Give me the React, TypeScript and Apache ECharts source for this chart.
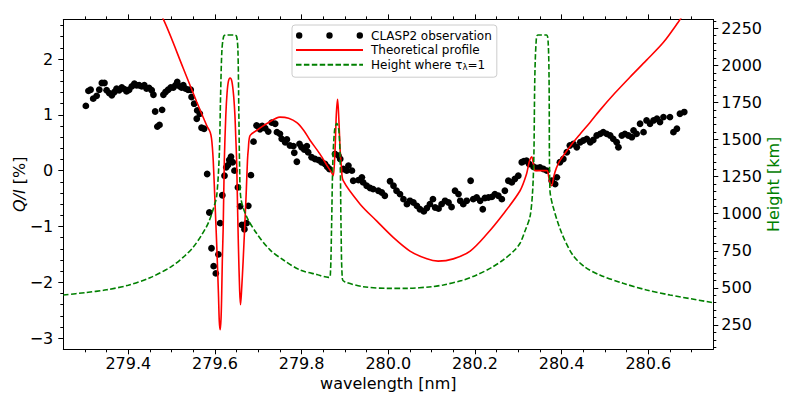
import React, { useEffect, useRef } from "react";
import * as echarts from "echarts";

// CLASP2 observation (wavelength [nm], Q/I [%])
const obsWavelength = [
  279.302, 279.308, 279.313, 279.319, 279.327, 279.333, 279.339, 279.345, 279.35, 279.356,
  279.362, 279.368, 279.373, 279.379, 279.385, 279.391, 279.396, 279.402, 279.408, 279.414,
  279.419, 279.425, 279.431, 279.437, 279.442, 279.448, 279.454, 279.458, 279.462, 279.467,
  279.472, 279.478, 279.481, 279.486, 279.492, 279.498, 279.504, 279.509, 279.513, 279.519,
  279.523, 279.527, 279.532, 279.538, 279.544, 279.546, 279.552, 279.558, 279.559, 279.565,
  279.569, 279.575, 279.582, 279.587, 279.592, 279.597, 279.602, 279.608, 279.612, 279.617,
  279.622, 279.626, 279.63, 279.633, 279.637, 279.641, 279.645, 279.653, 279.658, 279.662,
  279.668, 279.673, 279.677, 279.683, 279.689, 279.696, 279.7, 279.704, 279.709, 279.716,
  279.723, 279.731, 279.739, 279.743, 279.75, 279.754, 279.762, 279.766, 279.773, 279.781,
  279.783, 279.789, 279.795, 279.8, 279.806, 279.812, 279.815, 279.823, 279.831, 279.839,
  279.846, 279.854, 279.859, 279.864, 279.877, 279.885, 279.889, 279.896, 279.904, 279.908,
  279.916, 279.919, 279.931, 279.939, 279.942, 279.95, 279.958, 279.965, 279.977, 279.985,
  279.992, 280.004, 280.012, 280.019, 280.027, 280.035, 280.043, 280.05, 280.058, 280.066,
  280.073, 280.082, 280.089, 280.096, 280.103, 280.108, 280.116, 280.123, 280.131, 280.139,
  280.146, 280.154, 280.162, 280.166, 280.173, 280.181, 280.19, 280.196, 280.204, 280.212,
  280.218, 280.223, 280.231, 280.239, 280.246, 280.254, 280.262, 280.269, 280.277, 280.285,
  280.292, 280.3, 280.308, 280.313, 280.319, 280.325, 280.335, 280.343, 280.35, 280.358,
  280.366, 280.377, 280.385, 280.389, 280.396, 280.404, 280.412, 280.419, 280.427, 280.435,
  280.443, 280.45, 280.458, 280.466, 280.473, 280.481, 280.489, 280.496, 280.504, 280.512,
  280.519, 280.527, 280.531, 280.539, 280.546, 280.554, 280.562, 280.566, 280.573, 280.581,
  280.589, 280.596, 280.604, 280.612, 280.62, 280.627, 280.635, 280.65, 280.658, 280.666,
  280.673, 280.683,
];
const obsQI = [
  1.16, 1.43, 1.45, 1.29, 1.34, 1.45, 1.57, 1.57, 1.44, 1.39,
  1.35, 1.41, 1.47, 1.44, 1.49, 1.46, 1.42, 1.45, 1.51, 1.56,
  1.53, 1.53, 1.51, 1.53, 1.47, 1.48, 1.44, 1.36, 1.06, 0.79,
  0.82, 1.09, 1.36, 1.41, 1.45, 1.49, 1.49, 1.53, 1.59, 1.51,
  1.49, 1.53, 1.47, 1.45, 1.45, 1.32, 1.2, 0.93, 1.08, 1.02,
  0.77, 0.75, -0.06, -0.75, -1.39, -1.71, -1.84, -1.5, -0.94, -0.44,
  -0.09, 0.06, 0.1, 0.19, 0.25, 0.15, 0.0, -0.3, -0.64, -0.97,
  -1.05, -0.94, -0.63, -0.08, 0.52, 0.81, 0.79, 0.74, 0.8, 0.76,
  0.7, 0.86, 0.84, 0.69, 0.66, 0.57, 0.51, 0.56, 0.45, 0.44,
  0.32, 0.16, 0.48, 0.42, 0.38, 0.44, 0.33, 0.24, 0.21, 0.19,
  0.15, 0.12, 0.07, 0.03, 0.3, 0.27, 0.21, 0.03, 0.0, 0.09,
  0.0, -0.18, -0.17, -0.12, -0.21, -0.27, -0.31, -0.33, -0.36, -0.39,
  -0.45, -0.19, -0.27, -0.36, -0.42, -0.51, -0.6, -0.54, -0.57, -0.63,
  -0.69, -0.73, -0.67, -0.6, -0.51, -0.66, -0.68, -0.6, -0.54, -0.57,
  -0.65, -0.36, -0.42, -0.54, -0.6, -0.54, -0.18, -0.51, -0.48, -0.54,
  -0.69, -0.49, -0.48, -0.47, -0.42, -0.45, -0.51, -0.36, -0.18, -0.21,
  -0.15, -0.09, 0.15, 0.17, 0.18, 0.12, 0.07, 0.05, 0.06, 0.03,
  0.0, -0.18, -0.24, -0.12, 0.15, 0.21, 0.33, 0.45, 0.48, 0.42,
  0.51, 0.54, 0.57, 0.51, 0.55, 0.63, 0.66, 0.69, 0.66, 0.63,
  0.57, 0.51, 0.42, 0.63, 0.66, 0.63, 0.6, 0.72, 0.66, 0.84,
  0.69, 0.9, 0.84, 0.9, 0.93, 0.87, 0.96, 0.96, 0.69, 0.75,
  1.02, 1.05,
];

// Theoretical profile (wavelength [nm], Q/I [%])
const theoryWavelength = [
  279.25, 279.35, 279.42, 279.481, 279.527, 279.558, 279.581, 279.589, 279.592, 279.594,
  279.596, 279.6, 279.604, 279.608, 279.61, 279.612, 279.614, 279.6155, 279.617, 279.619,
  279.6216, 279.625, 279.628, 279.631, 279.635, 279.639, 279.643, 279.646, 279.648, 279.65,
  279.652, 279.654, 279.657, 279.659, 279.661, 279.665, 279.672, 279.675, 279.677, 279.681,
  279.696, 279.719, 279.75, 279.77, 279.789, 279.805, 279.819, 279.842, 279.862, 279.869,
  279.873, 279.877, 279.88, 279.883, 279.886, 279.889, 279.892, 279.896, 279.935, 279.973,
  280.012, 280.05, 280.089, 280.115, 280.15, 280.189, 280.227, 280.265, 280.304, 280.319,
  280.325, 280.331, 280.335, 280.339, 280.366, 280.37, 280.374, 280.377, 280.382, 280.388,
  280.396, 280.419, 280.442, 280.465, 280.488, 280.523, 280.557, 280.596, 280.634, 280.669,
  280.696, 280.75,
];
const theoryQI = [
  6.0, 4.6, 3.6, 2.71, 1.83, 1.23, 0.81, 0.69, 0.58, 0.42,
  0.18, -0.55, -1.32, -2.2, -2.7, -2.85, -2.65, -2.22, -1.6, -1.02,
  0.18, 0.99, 1.4, 1.6, 1.66, 1.6, 1.35, 1.0, 0.6, 0.18,
  -0.6, -1.32, -2.15, -2.4, -2.2, -1.62, -0.42, 0.18, 0.39, 0.63,
  0.72, 0.84, 0.96, 0.94, 0.86, 0.72, 0.55, 0.3, 0.05, -0.03,
  -0.09, 0.35, 1.0, 1.28, 0.9, 0.35, 0.05, -0.18, -0.6, -0.9,
  -1.2, -1.44, -1.58, -1.62, -1.58, -1.44, -1.14, -0.78, -0.36, -0.06,
  0.15, 0.25, 0.12, 0.0, 0.0, -0.1, -0.25, -0.27, -0.1, 0.05,
  0.18, 0.43, 0.65, 0.86, 1.08, 1.39, 1.67, 1.98, 2.29, 2.66,
  2.97, 3.6,
];

// Height where tau=1 (wavelength [nm], height [km])
const heightWavelength = [
  279.25, 279.3, 279.35, 279.4, 279.45, 279.5, 279.53, 279.55, 279.57, 279.585,
  279.597, 279.604, 279.61, 279.613, 279.616, 279.62, 279.625, 279.645, 279.65, 279.653,
  279.655, 279.657, 279.66, 279.673, 279.696, 279.727, 279.758, 279.796, 279.835, 279.862,
  279.866, 279.869, 279.872, 279.876, 279.881, 279.886, 279.889, 279.891, 279.894, 279.9,
  279.942, 280.0, 280.043, 280.1, 280.127, 280.17, 280.204, 280.24, 280.265, 280.29,
  280.304, 280.315, 280.327, 280.333, 280.336, 280.338, 280.341, 280.345, 280.365, 280.369,
  280.371, 280.373, 280.38, 280.4, 280.426, 280.454, 280.488, 280.542, 280.596, 280.65,
  280.75,
];
const heightKm = [
  452, 468, 487, 518, 568, 645, 715, 775, 860, 940,
  1040, 1120, 1400, 1800, 2100, 2195, 2205, 2205, 2195, 2100,
  1700, 1300, 1100, 980, 868, 756, 688, 621, 590, 571,
  575, 900, 1350, 1560, 1610, 1560, 1350, 900, 560, 540,
  508, 497, 497, 508, 520, 550, 587, 640, 688, 750,
  801, 880, 980, 1150, 1400, 1900, 2150, 2205, 2205, 2150,
  1900, 1160, 1050, 870, 720, 640, 587, 531, 486, 452,
  400,
];

// Tick values
const xTicks = [279.4, 279.6, 279.8, 280.0, 280.2, 280.4, 280.6];
const qiTicks = [-3, -2, -1, 0, 1, 2];
const heightTicks = [250, 500, 750, 1000, 1250, 1500, 1750, 2000, 2250];

const FONT = "DejaVu Sans";
const minus = (s: string) => s.replace("-", "\u2212");
const dotIcon =
  "path://M0,3.2a3.2,3.2 0 1,0 6.4,0a3.2,3.2 0 1,0 -6.4,0" +
  "M30.3,3.2a3.2,3.2 0 1,0 6.4,0a3.2,3.2 0 1,0 -6.4,0" +
  "M60.6,3.2a3.2,3.2 0 1,0 6.4,0a3.2,3.2 0 1,0 -6.4,0";

export default function App() {
  const ref = useRef<HTMLDivElement>(null);
  useEffect(() => {
    if (!ref.current) return;
    const chart = echarts.init(ref.current, null, { renderer: "svg" });
    const axisCommon = {
      axisLine: { show: true, onZero: false, lineStyle: { color: "#000", width: 1 } },
      splitLine: { show: false },
    };
    const xBase = {
      type: "value",
      min: 279.25,
      max: 280.75,
      minInterval: 0.2,
      maxInterval: 0.2,
      ...axisCommon,
      axisTick: { show: true, inside: false, length: 5, customValues: xTicks, lineStyle: { color: "#000" } },
      minorTick: { show: true, splitNumber: 4, length: 3, lineStyle: { color: "#000" } },
    };
    const option: any = {
      animation: false,
      textStyle: { fontFamily: FONT },
      grid: { left: 63.3, right: 79.7, top: 19.4, bottom: 47.7, containLabel: false, outerBoundsMode: "none" },
      legend: {
        orient: "vertical",
        left: 292,
        top: 25,
        padding: [4, 5, 6, 3],
        itemWidth: 67,
        itemHeight: 6.4,
        itemGap: 1.6,
        backgroundColor: "rgba(255,255,255,0.8)",
        borderColor: "#cccccc",
        borderWidth: 1,
        borderRadius: 3,
        textStyle: {
          fontFamily: FONT,
          fontSize: 12,
          color: "#000",
          lineHeight: 13,
          padding: [0, 0, 0, 3],
          rich: { sub: { fontFamily: FONT, fontSize: 8.5, verticalAlign: "bottom", color: "#000" } },
        },
        formatter: (name: string) => (name === "Height where τλ=1" ? "Height where τ{sub|λ}=1" : name),
        data: [
          { name: "CLASP2 observation", icon: dotIcon, itemStyle: { opacity: 1 } },
          { name: "Theoretical profile", itemStyle: { opacity: 0 } },
          { name: "Height where τλ=1", itemStyle: { opacity: 0 } },
        ],
      },
      xAxis: [
        {
          ...xBase,
          position: "bottom",
          axisLabel: {
            customValues: xTicks,
            formatter: (v: number) => v.toFixed(1),
            fontFamily: FONT,
            fontSize: 16,
            color: "#000",
            margin: 6,
          },
          name: "wavelength [nm]",
          nameLocation: "middle",
          nameGap: 26,
          nameMoveOverlap: false,
          nameTextStyle: { fontFamily: FONT, fontSize: 16, color: "#000" },
        },
        {
          ...xBase,
          position: "top",
          axisLabel: { show: false },
        },
      ],
      yAxis: [
        {
          type: "value",
          position: "left",
          min: -3.2,
          max: 2.71,
          minInterval: 1,
          maxInterval: 1,
          ...axisCommon,
          axisTick: { show: true, inside: false, length: 5, customValues: qiTicks, lineStyle: { color: "#000" } },
          minorTick: { show: true, splitNumber: 5, length: 3, lineStyle: { color: "#000" } },
          axisLabel: {
            customValues: qiTicks,
            formatter: (v: number) => minus(String(v)),
            fontFamily: FONT,
            fontSize: 16,
            color: "#000",
            margin: 10,
          },
          name: "{i|Q/I} [%]",
          nameLocation: "middle",
          nameRotate: 90,
          nameGap: 36,
          nameMoveOverlap: false,
          nameTextStyle: {
            fontFamily: FONT,
            fontSize: 16,
            color: "#000",
            rich: { i: { fontFamily: FONT, fontSize: 16, fontStyle: "italic", color: "#000" } },
          },
        },
        {
          type: "value",
          position: "right",
          min: 86,
          max: 2310,
          minInterval: 250,
          maxInterval: 250,
          ...axisCommon,
          axisTick: { show: true, inside: false, length: 5, customValues: heightTicks, lineStyle: { color: "#000" } },
          minorTick: { show: true, splitNumber: 5, length: 3, lineStyle: { color: "#000" } },
          axisLabel: {
            customValues: heightTicks,
            formatter: (v: number) => String(v),
            fontFamily: FONT,
            fontSize: 16,
            color: "#000",
            margin: 8,
          },
          name: "Height [km]",
          nameLocation: "middle",
          nameRotate: 90,
          nameGap: 52,
          nameMoveOverlap: false,
          nameTextStyle: { fontFamily: FONT, fontSize: 16, color: "#008000" },
        },
      ],
      series: [
        {
          name: "CLASP2 observation",
          type: "scatter",
          xAxisIndex: 0,
          yAxisIndex: 0,
          symbol: "circle",
          symbolSize: 6.8,
          itemStyle: { color: "#000", opacity: 1 },
          z: 2,
          data: obsWavelength.map((w, i) => [w, obsQI[i]]),
        },
        {
          name: "Theoretical profile",
          type: "line",
          xAxisIndex: 0,
          yAxisIndex: 0,
          showSymbol: false,
          symbol: "none",
          smooth: 0.3,
          clip: true,
          lineStyle: { color: "#ff0000", width: 1.6 },
          itemStyle: { color: "#ff0000" },
          z: 3,
          data: theoryWavelength.map((w, i) => [w, theoryQI[i]]),
        },
        {
          name: "Height where τλ=1",
          type: "line",
          xAxisIndex: 0,
          yAxisIndex: 1,
          showSymbol: false,
          symbol: "none",
          smooth: 0.3,
          clip: true,
          lineStyle: { color: "#008000", width: 1.6, type: [5.5, 2.4] },
          itemStyle: { color: "#008000" },
          z: 4,
          data: heightWavelength.map((w, i) => [w, heightKm[i]]),
        },
      ],
    };
    chart.setOption(option);
    return () => chart.dispose();
  }, []);
  return (
    <div
      ref={ref}
      style={{ position: "fixed", left: 0, top: 0, width: 793, height: 397, background: "#fff" }}
    />
  );
}
